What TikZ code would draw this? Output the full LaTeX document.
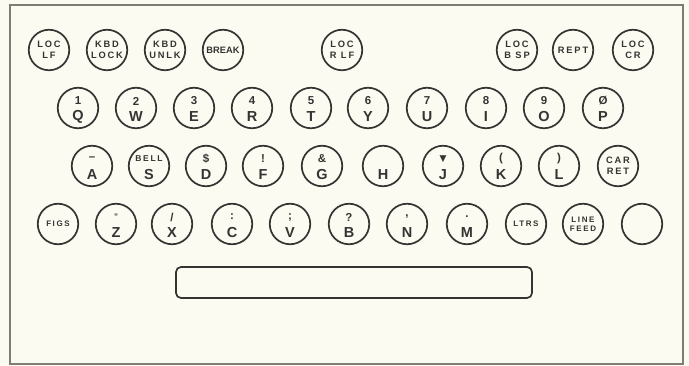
\documentclass[tikz,border=0pt]{standalone}
\usepackage{fontspec}
\setmainfont{Liberation Sans}
\newfontfamily\keyfont[LetterSpace=20]{Liberation Sans}
\newfontfamily\symfont{DejaVu Sans}
\definecolor{paper}{RGB}{252,251,242}
\definecolor{ink}{RGB}{52,52,50}
\definecolor{framec}{RGB}{125,125,118}
\tikzset{
  keyc/.style={circle, draw=ink, line width=1.7pt, minimum size=40.5pt, inner sep=0pt, text=ink, align=center},
  small/.style={font=\keyfont\bfseries\fontsize{9.3}{10.5}\selectfont},
  tiny/.style={font=\keyfont\bfseries\fontsize{8}{9.5}\selectfont},
  symlab/.style={inner sep=0pt, text=ink, font=\bfseries\fontsize{11.5}{11.5}\selectfont},
  letlab/.style={inner sep=0pt, text=ink, font=\bfseries\fontsize{14.5}{14.5}\selectfont},
  barbox/.style={draw=ink, line width=1.7pt, rounded corners=5pt, minimum width=356pt, minimum height=31pt, inner sep=0pt},
}
\newcommand\lkey[5]{%
  \node[keyc] (#1) at (#2,#3) {};
  \node[symlab] (#1t) at (#2,#3-7) {#4};
  \node[letlab] (#1b) at (#2,#3+8.5) {#5};}
\begin{document}
\begin{tikzpicture}[x=1pt,y=-1pt]
\useasboundingbox (0,0) rectangle (689,366);
\fill[paper] (0,0) rectangle (689,366);
\draw[framec, line width=2pt] (10,5) rectangle (683,364);
% row 1
\node[keyc, small] (loclf) at (49,50) {LOC\\LF};
\node[keyc, small] (kbdlock) at (107,50) {KBD\\LOCK};
\node[keyc, small] (kbdunlk) at (165,50) {KBD\\UNLK};
\node[keyc, font=\bfseries\fontsize{9.3}{10.5}\selectfont] (break) at (223,50) {BREAK};
\node[keyc, small] (locrlf) at (342,50) {LOC\\R LF};
\node[keyc, small] (locbsp) at (517,50) {LOC\\B SP};
\node[keyc, small] (rept) at (573,50) {REPT};
\node[keyc, small] (loccr) at (633,50) {LOC\\CR};
% row 2
\lkey{q}{78}{108}{1}{Q}
\lkey{w}{136}{108}{2}{W}
\lkey{e}{194}{108}{3}{E}
\lkey{r}{252}{108}{4}{R}
\lkey{t}{311}{108}{5}{T}
\lkey{y}{368}{108}{6}{Y}
\lkey{u}{427}{108}{7}{U}
\lkey{i}{486}{108}{8}{I}
\lkey{o}{544}{108}{9}{O}
\lkey{p}{603}{108}{Ø}{P}
% row 3
\lkey{a}{92}{166}{–}{A}
\node[keyc] (s) at (149,166) {};
\node[inner sep=0pt, text=ink, font=\keyfont\bfseries\fontsize{8.5}{8.5}\selectfont] (st) at (149,159) {BELL};
\node[letlab] (sb) at (149,174.5) {S};
\lkey{d}{206}{166}{\$}{D}
\lkey{f}{263}{166}{!}{F}
\lkey{g}{322}{166}{\&}{G}
\node[keyc] (h) at (383,166) {};
\node[letlab] (hb) at (383,174.5) {H};
\lkey{j}{443}{166}{\symfont\fontsize{9}{9}\selectfont ▼}{J}
\lkey{k}{501}{166}{(}{K}
\lkey{l}{559}{166}{)}{L}
\node[keyc, small] (carret) at (618,166) {CAR\\RET};
% row 4
\node[keyc, tiny] (figs) at (58,224) {FIGS};
\lkey{z}{116}{224}{\fontsize{8}{8}\selectfont "}{Z}
\lkey{x}{172}{224}{/}{X}
\lkey{c}{232}{224}{:}{C}
\lkey{v}{290}{224}{;}{V}
\lkey{bk}{349}{224}{?}{B}
\lkey{n}{407}{224}{,}{N}
\lkey{m}{467}{224}{.}{M}
\node[keyc, tiny] (ltrs) at (526,224) {LTRS};
\node[keyc, tiny] (linefeed) at (583,224) {LINE\\FEED};
\node[keyc] (blank) at (642,224) {};
% space bar
\node[barbox] (space) at (354,282.5) {};
\end{tikzpicture}
\end{document}
